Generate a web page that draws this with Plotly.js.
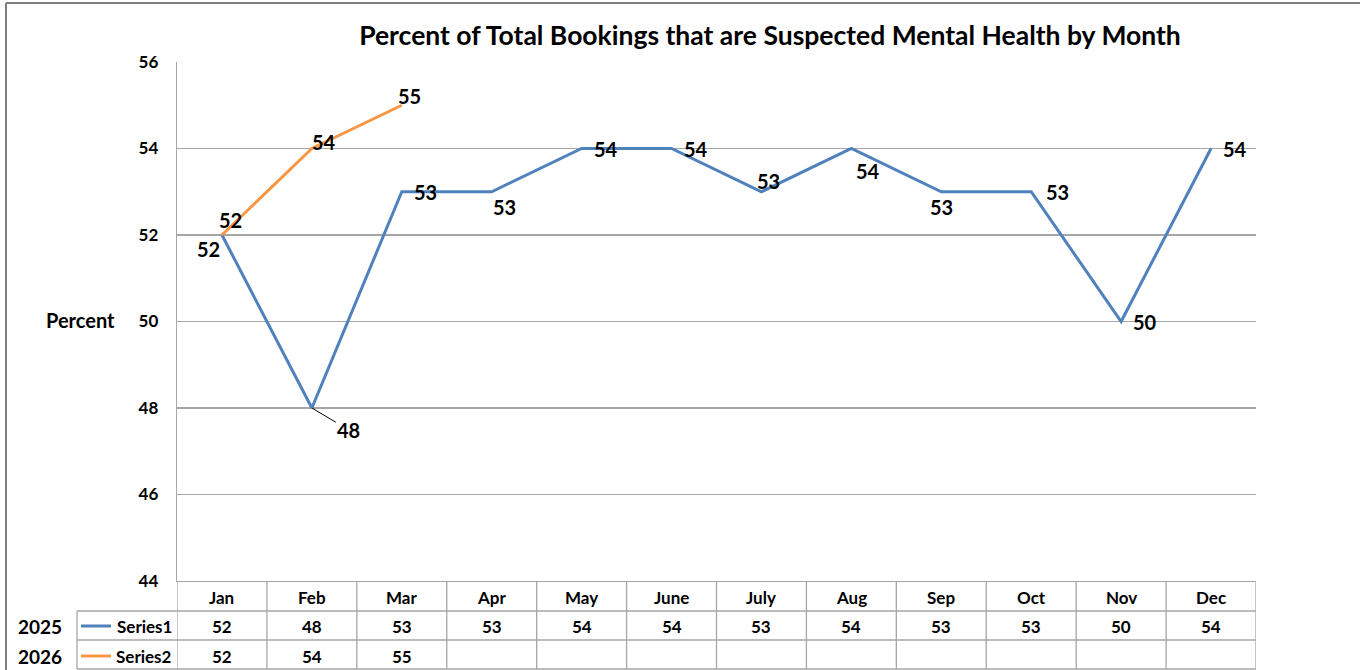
<!DOCTYPE html>
<html>
<head>
<meta charset="utf-8">
<script src="https://cdn.plot.ly/plotly-3.0.1.min.js"></script>
<style>
html,body{margin:0;padding:0;background:#fff;}
#chart{width:1360px;height:670px;}
</style>
</head>
<body>
<div id="chart"></div>
<script>
// ---- data ----
const months = ["Jan","Feb","Mar","Apr","May","June","July","Aug","Sep","Oct","Nov","Dec"];
const series1Name = "Series1";
const series2Name = "Series2";
const series1Year = "2025";
const series2Year = "2026";
const series1 = [52,48,53,53,54,54,53,54,53,53,50,54];
const series2 = [52,54,55];
const yTicks = [44,46,48,50,52,54,56];

// ---- style ----
const FONT = "Lato, 'Open Sans', sans-serif";
const BLUE = "#4F81BD";
const ORANGE = "#F79646";
const GRID = "#A6A6A6";
const L = 177, R = 104, T = 62, B = 89, W = 1360, H = 670;
const plotW = W - L - R, plotH = H - T - B;
const px2x = px => (px - L) / plotW;           // paper x from pixel
const py2y = py => (H - B - py) / plotH;       // paper y from pixel

// label offsets (style, pixels) per point
const off1 = [[-13,14],[37,22],[24,0],[13,15],[24,0],[24,0],[7,-11],[17,22],[0,15],[26,0],[24,0],[24,0]];
const off2 = [[9,-15],[12,-7],[8,-9]];
const lblFont = {family:FONT, size:20, color:'#000', weight:'bold'};

const annotations = [];
const shapes = [];

series1.forEach((v,i) => {
  const o = off1[i];
  if (i === 1) {
    annotations.push({x: months[i], y: v, xref:'x', yref:'y', text: String(v),
      showarrow:true, arrowhead:0, arrowwidth:1, arrowcolor:'#000', ax:o[0], ay:o[1],
      standoff:0, startstandoff:0, font:lblFont});
  } else {
    annotations.push({x: months[i], y: v, xref:'x', yref:'y', text: String(v), showarrow:false,
      xshift:o[0], yshift:-o[1], font:lblFont});
  }
});
series2.forEach((v,i) => {
  const o = off2[i];
  annotations.push({x: months[i], y: v, xref:'x', yref:'y', text: String(v), showarrow:false,
    xshift:o[0], yshift:-o[1], font:lblFont});
});

// Percent label
annotations.push({xref:'paper', yref:'paper', x:px2x(80), y:py2y(320), text:'Percent', showarrow:false,
  xanchor:'center', yanchor:'middle', font:{family:FONT, size:20, color:'#000', weight:'bold'}});

// ---- data table below the plot ----
const rowHeader = py2y(597), row1 = py2y(626), row2 = py2y(656);
const lineTop = 0, line1 = py2y(611), line2 = py2y(640), line3 = py2y(669);
const tblFont = {family:FONT, size:17, color:'#000', weight:'bold'};
months.forEach((m,i) => {
  annotations.push({x:m, xref:'x', yref:'paper', y:rowHeader, text:m, showarrow:false, font:tblFont, yanchor:'middle'});
  annotations.push({x:m, xref:'x', yref:'paper', y:row1, text:String(series1[i]), showarrow:false, font:tblFont, yanchor:'middle'});
  if (i < series2.length)
    annotations.push({x:m, xref:'x', yref:'paper', y:row2, text:String(series2[i]), showarrow:false, font:tblFont, yanchor:'middle'});
});
// years & legend names
annotations.push({xref:'paper', yref:'paper', x:px2x(40), y:row1, text:series1Year, showarrow:false,
  font:{family:FONT, size:19, color:'#000', weight:'bold'}, xanchor:'center', yanchor:'middle'});
annotations.push({xref:'paper', yref:'paper', x:px2x(40), y:row2, text:series2Year, showarrow:false,
  font:{family:FONT, size:19, color:'#000', weight:'bold'}, xanchor:'center', yanchor:'middle'});
annotations.push({xref:'paper', yref:'paper', x:px2x(174), y:row1, text:series1Name, showarrow:false,
  font:tblFont, xanchor:'right', yanchor:'middle'});
annotations.push({xref:'paper', yref:'paper', x:px2x(174), y:row2, text:series2Name, showarrow:false,
  font:tblFont, xanchor:'right', yanchor:'middle'});
shapes.push({type:'line', xref:'paper', yref:'paper', x0:px2x(81), x1:px2x(111), y0:row1, y1:row1, line:{color:BLUE, width:3}});
shapes.push({type:'line', xref:'paper', yref:'paper', x0:px2x(81), x1:px2x(111), y0:row2, y1:row2, line:{color:ORANGE, width:3}});

// table grid
const tblLine = {color:GRID, width:1.3};
[line1, line2, line3].forEach(y => {
  shapes.push({type:'line', xref:'paper', yref:'paper', x0:px2x(77), x1:1, y0:y, y1:y, line:tblLine});
});
for (let k = 0; k <= months.length; k++) {
  shapes.push({type:'line', xref:'x', yref:'paper', x0:k-0.5, x1:k-0.5, y0:lineTop, y1:line3, line:tblLine});
}
shapes.push({type:'line', xref:'paper', yref:'paper', x0:px2x(77), x1:px2x(77), y0:line1, y1:line3, line:tblLine});

// outer chart border (top and left)
shapes.push({type:'line', xref:'paper', yref:'paper', x0:px2x(6), x1:px2x(1362), y0:py2y(3), y1:py2y(3), line:{color:'#7F7F7F', width:2}});
shapes.push({type:'line', xref:'paper', yref:'paper', x0:px2x(6), x1:px2x(6), y0:py2y(3), y1:py2y(672), line:{color:'#7F7F7F', width:2}});

const traces = [
  {type:'scatter', mode:'lines', name:series1Name, x:months, y:series1,
   line:{color:BLUE, width:3}, hoverinfo:'skip'},
  {type:'scatter', mode:'lines', name:series2Name, x:months.slice(0, series2.length), y:series2,
   line:{color:ORANGE, width:3}, hoverinfo:'skip'}
];

const layout = {
  width:W, height:H,
  margin:{l:L, r:R, t:T, b:B, pad:0},
  paper_bgcolor:'#fff', plot_bgcolor:'#fff',
  showlegend:false,
  title:{text:'Percent of Total Bookings that are Suspected Mental Health by Month',
    x:770/W, xanchor:'center', xref:'container', y:1-36/H, yanchor:'middle', yref:'container',
    font:{family:FONT, size:26.5, color:'#000', weight:'bold'}},
  xaxis:{type:'category', categoryorder:'array', categoryarray:months, range:[-0.5, months.length-0.5],
    showticklabels:false, showgrid:false, zeroline:false, showline:true, linecolor:GRID, linewidth:1.3, ticks:''},
  yaxis:{range:[44,56], tickvals:yTicks, ticktext:yTicks.map(String), showgrid:true, gridcolor:GRID, gridwidth:1.3,
    zeroline:false, showline:true, linecolor:GRID, linewidth:1.3, ticks:'', ticklabelstandoff:14,
    tickfont:{family:FONT, size:17, color:'#000', weight:'bold'}},
  annotations, shapes
};

Plotly.newPlot('chart', traces, layout, {staticPlot:true, displayModeBar:false});
</script>
</body>
</html>
